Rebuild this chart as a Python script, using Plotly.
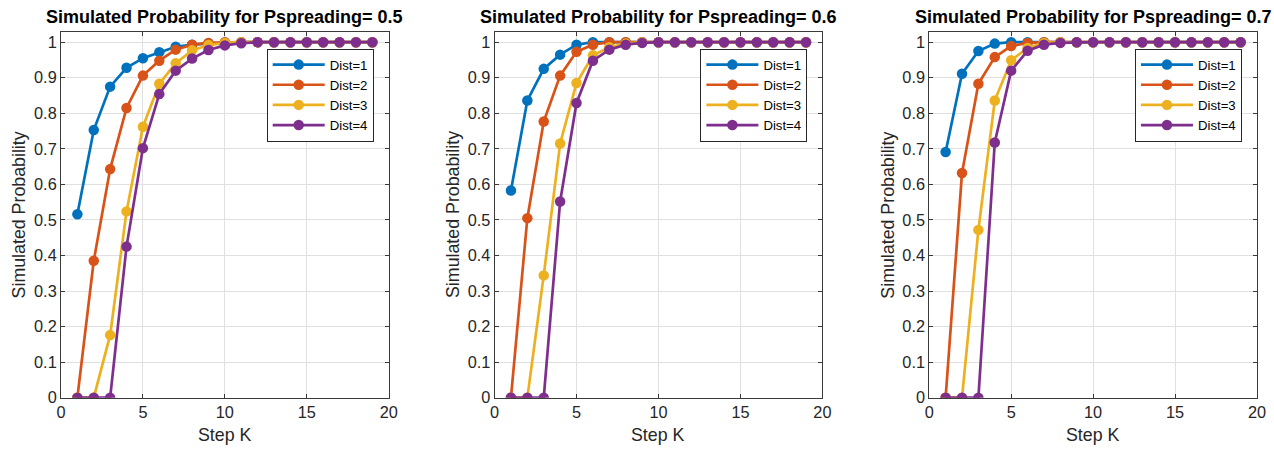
import plotly.graph_objects as go

steps = list(range(1, 20))
p_values = ["0.5", "0.6", "0.7"]
series_names = ["Dist=1", "Dist=2", "Dist=3", "Dist=4"]

# Pspreading = 0.5
p05_d1 = [0.516, 0.753, 0.875, 0.928, 0.955, 0.972, 0.987, 0.993, 0.997, 0.999, 1, 1, 1, 1, 1, 1, 1, 1, 1]
p05_d2 = [0, 0.385, 0.643, 0.815, 0.906, 0.948, 0.979, 0.993, 0.998, 1, 1, 1, 1, 1, 1, 1, 1, 1, 1]
p05_d3 = [0, 0, 0.176, 0.524, 0.762, 0.883, 0.941, 0.977, 0.992, 0.998, 1, 1, 1, 1, 1, 1, 1, 1, 1]
p05_d4 = [0, 0, 0, 0.425, 0.702, 0.854, 0.920, 0.954, 0.978, 0.991, 0.997, 1, 1, 1, 1, 1, 1, 1, 1]

# Pspreading = 0.6
p06_d1 = [0.583, 0.836, 0.925, 0.965, 0.993, 1, 1, 1, 1, 1, 1, 1, 1, 1, 1, 1, 1, 1, 1]
p06_d2 = [0, 0.505, 0.777, 0.906, 0.973, 0.993, 1, 1, 1, 1, 1, 1, 1, 1, 1, 1, 1, 1, 1]
p06_d3 = [0, 0, 0.344, 0.715, 0.885, 0.963, 0.986, 0.996, 1, 1, 1, 1, 1, 1, 1, 1, 1, 1, 1]
p06_d4 = [0, 0, 0, 0.552, 0.829, 0.948, 0.979, 0.993, 0.998, 1, 1, 1, 1, 1, 1, 1, 1, 1, 1]

# Pspreading = 0.7
p07_d1 = [0.691, 0.911, 0.975, 0.996, 1, 1, 1, 1, 1, 1, 1, 1, 1, 1, 1, 1, 1, 1, 1]
p07_d2 = [0, 0.632, 0.883, 0.958, 0.989, 0.998, 1, 1, 1, 1, 1, 1, 1, 1, 1, 1, 1, 1, 1]
p07_d3 = [0, 0, 0.472, 0.836, 0.949, 0.984, 0.998, 1, 1, 1, 1, 1, 1, 1, 1, 1, 1, 1, 1]
p07_d4 = [0, 0, 0, 0.718, 0.920, 0.976, 0.993, 0.998, 1, 1, 1, 1, 1, 1, 1, 1, 1, 1, 1]

panels = [
    [p05_d1, p05_d2, p05_d3, p05_d4],
    [p06_d1, p06_d2, p06_d3, p06_d4],
    [p07_d1, p07_d2, p07_d3, p07_d4],
]

colors = ["#0072BD", "#D95319", "#EDB120", "#7E2F8E"]
W, H = 1274, 450
x_px = [(56.6, 388.0), (495.0, 826.5), (934.5, 1265.9)]
y_top, y_bot = 32.9, 405.8
y_dom = [1 - y_bot / H, 1 - y_top / H]
FONT = "Liberation Sans, Arial, sans-serif"
AXC = "#262626"

fig = go.Figure()
for i, series in enumerate(panels):
    ax = "" if i == 0 else str(i + 1)
    leg = "legend" if i == 0 else f"legend{i + 1}"
    for j, vals in enumerate(series):
        fig.add_trace(go.Scatter(
            x=steps, y=vals, mode="lines+markers", name=series_names[j],
            line=dict(color=colors[j], width=2.7),
            marker=dict(color=colors[j], size=10.5, symbol="circle"),
            xaxis="x" + ax, yaxis="y" + ax, legend=leg,
        ))
    x0, x1 = x_px[i]
    xc = (x0 + x1) / 2
    axis_common = dict(
        showline=True, linecolor="#3a3a3a", linewidth=1, mirror="ticks",
        ticks="inside", ticklen=4, tickcolor="#3a3a3a",
        showgrid=True, gridcolor="#e0e0e0", gridwidth=1, zeroline=False,
        tickfont=dict(family=FONT, size=16.3, color=AXC),
    )
    fig.layout["xaxis" + ax] = dict(
        axis_common, domain=[x0 / W, x1 / W], range=[0, 20], dtick=5, tick0=0,
        anchor="y" + ax,
    )
    fig.layout["yaxis" + ax] = dict(
        axis_common, domain=y_dom, range=[0, 1.028], dtick=0.1, tick0=0,
        anchor="x" + ax,
    )
    fig.layout[leg] = dict(
        x=(x1 - 15.2) / W, y=1 - 49.5 / H, xanchor="right", yanchor="top",
        bgcolor="white", bordercolor="#262626", borderwidth=1,
        font=dict(family=FONT, size=13.2, color="#000"),
        tracegroupgap=0, itemwidth=52,
    )
    fig.add_annotation(
        x=xc / W, y=1 - 17.5 / H, xref="paper", yref="paper",
        text=f"<b>Simulated Probability for Pspreading= {p_values[i]}</b>",
        showarrow=False, font=dict(family=FONT, size=18, color="#000"),
        xanchor="center", yanchor="middle",
    )
    fig.add_annotation(
        x=xc / W, y=1 - 443.5 / H, xref="paper", yref="paper",
        text="Step K", showarrow=False,
        font=dict(family=FONT, size=17.8, color=AXC),
        xanchor="center", yanchor="middle",
    )
    fig.add_annotation(
        x=(x0 - 42) / W, y=1 - (y_top + y_bot) / 2 / H, xref="paper", yref="paper",
        text="Simulated Probability", showarrow=False, textangle=-90,
        font=dict(family=FONT, size=17.8, color=AXC),
        xanchor="center", yanchor="middle",
    )

fig.update_layout(
    width=W, height=H, margin=dict(l=0, r=0, t=0, b=0),
    paper_bgcolor="white", plot_bgcolor="white", showlegend=True,
)
fig.write_html("out.html")
